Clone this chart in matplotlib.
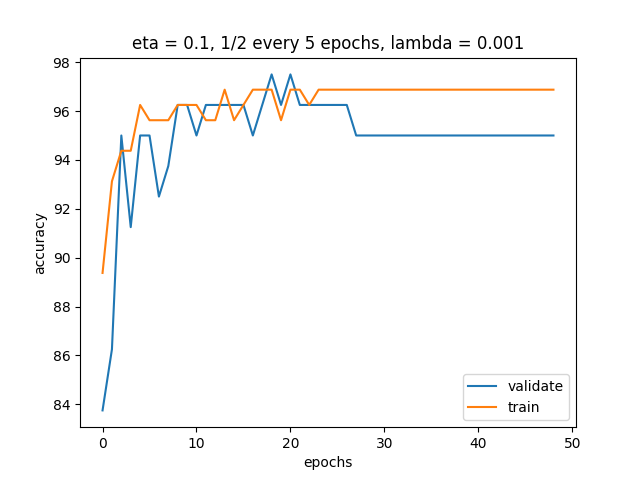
import numpy as np
import matplotlib
matplotlib.use("Agg")
import matplotlib.pyplot as plt

# precisión por época (validación: 80 muestras, entrenamiento: 160)
validate = [83.75, 86.25, 95.0, 91.25, 95.0, 95.0, 92.5, 93.75, 96.25, 96.25,
            95.0, 96.25, 96.25, 96.25, 96.25, 96.25, 95.0, 96.25, 97.5, 96.25,
            97.5, 96.25, 96.25, 96.25, 96.25, 96.25, 96.25] + [95.0] * 22
train = [89.375, 93.125, 94.375, 94.375, 96.25, 95.625, 95.625, 95.625, 96.25, 96.25,
         96.25, 95.625, 95.625, 96.875, 95.625, 96.25, 96.875, 96.875, 96.875, 95.625,
         96.875, 96.875, 96.25] + [96.875] * 26
epochs = np.arange(len(validate))

plt.figure(figsize=(6.4, 4.8), dpi=100)
plt.plot(epochs, validate, label="validate")
plt.plot(epochs, train, label="train")
plt.title("eta = 0.1, 1/2 every 5 epochs, lambda = 0.001")
plt.xlabel("epochs")
plt.ylabel("accuracy")
plt.legend(loc="lower right")
plt.savefig("out.png")
